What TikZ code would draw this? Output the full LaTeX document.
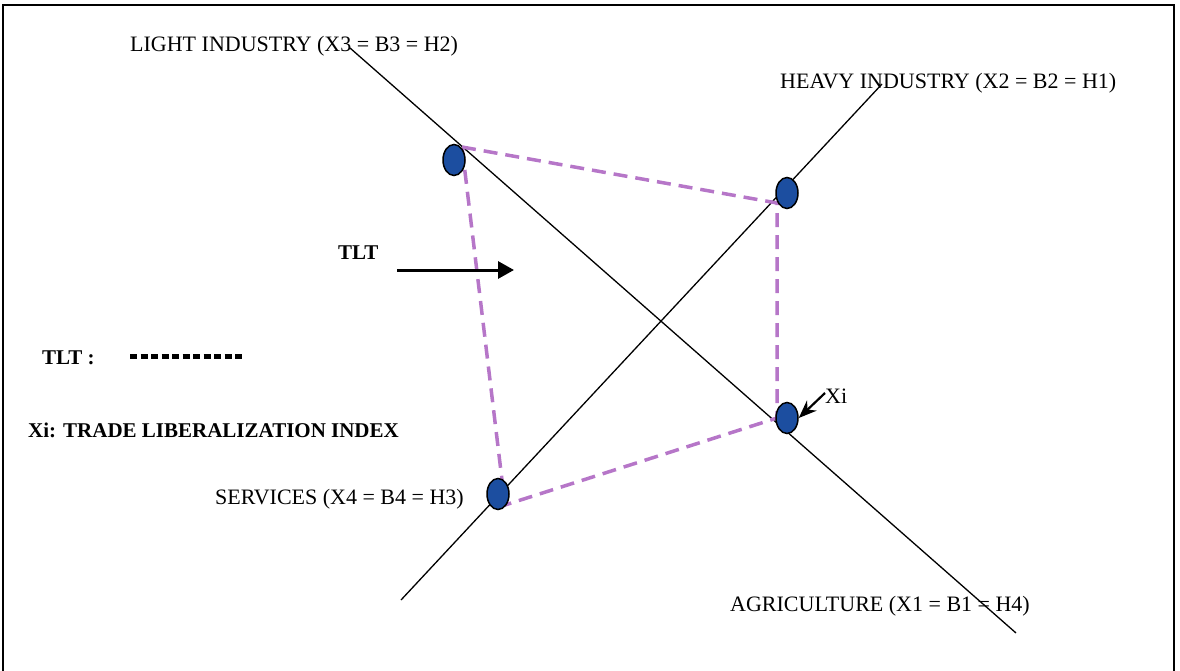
\documentclass[tikz,border=0pt]{standalone}
\usepackage{fontspec}
\setmainfont{Liberation Serif}
\newfontfamily\cond{Liberation Serif}
\usetikzlibrary{shapes.geometric,arrows.meta}
\definecolor{tltc}{RGB}{182,118,200}
\definecolor{dotblue}{RGB}{28,78,160}
\begin{document}
\begin{tikzpicture}[x=1pt,y=-1pt,
  axisline/.style={line width=1.3pt,black},
  dotnode/.style={ellipse,draw=black,line width=1.5pt,fill=dotblue,minimum width=22pt,minimum height=31pt,inner sep=0pt},
  tltline/.style={line width=3.5pt,tltc,dash pattern=on 14pt off 8pt},
  lbl/.style={font=\fontsize{22}{26}\selectfont\cond,inner sep=0pt},
  blbl/.style={font=\fontsize{21}{25}\selectfont\cond\bfseries,inner sep=0pt}]
\useasboundingbox (0,0) rectangle (1180,671);
\draw[line width=2.5pt] (3,671) -- (3,5) -- (1174,5) -- (1174,671);
% axes
\coordinate (lt) at (350,48);
\coordinate (ag) at (1016,633);
\coordinate (sv) at (401,600);
\coordinate (hv) at (882,84);
\draw[axisline] (lt) -- (ag);
\draw[axisline] (sv) -- (hv);
% TLT polygon
\coordinate (p1) at (462,147);
\coordinate (p2) at (777,203);
\coordinate (p3) at (777,418);
\coordinate (p4) at (505,505);
\draw[tltline] (p1) -- (p2) -- (p3) -- (p4) -- cycle;
% dots
\node[dotnode] (d1) at (454,160) {};
\node[dotnode] (d2) at (787,193) {};
\node[dotnode] (d3) at (498,494) {};
\node[dotnode] (d4) at (787,418) {};
% labels
\node[lbl,anchor=west] (l1) at (130,46) {LIGHT INDUSTRY (X3 = B3 = H2)};
\node[lbl,anchor=west] (l2) at (780,83) {HEAVY INDUSTRY (X2 = B2 = H1)};
\node[lbl,anchor=west] (l3) at (215,499) {SERVICES (X4 = B4 = H3)};
\node[lbl,anchor=west] (l4) at (730,606) {AGRICULTURE (X1 = B1 = H4)};
% TLT arrow
\node[blbl,anchor=west] (t1) at (338,253) {TLT};
\coordinate (a0) at (397,270);
\coordinate (a1) at (514,270);
\draw[line width=3pt,-{Triangle[length=16pt,width=17pt]}] (a0) -- (a1);
% legend
\node[blbl,anchor=west] (t2) at (42,358) {TLT :};
\coordinate (g0) at (130,356);
\coordinate (g1) at (242,356);
\draw[line width=5pt,dash pattern=on 7pt off 3.5pt] (g0) -- (g1);
\node[blbl,anchor=west] (t3) at (28,430) {Xi: TRADE LIBERALIZATION INDEX};
% Xi
\node[lbl,anchor=west] (xi) at (825,396) {Xi};
\draw[line width=2.2pt,-{Stealth[length=18pt,width=14pt]}] (xi.west) ++(0,-3) -- (d4.east);
\end{tikzpicture}
\end{document}
